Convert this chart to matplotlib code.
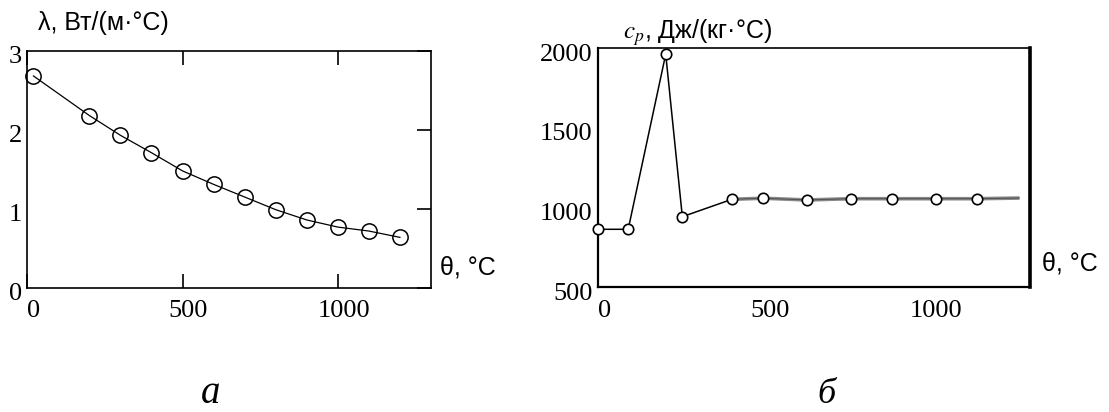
import matplotlib
matplotlib.use("Agg")
import matplotlib.pyplot as plt
import matplotlib.transforms as mtransforms

plt.rcParams['mathtext.fontset'] = 'stix'

# (a) thermal conductivity
theta_lam = [20, 200, 300, 400, 500, 600, 700, 800, 900, 1000, 1100, 1200]
lam = [2.68, 2.18, 1.93, 1.71, 1.48, 1.31, 1.15, 0.99, 0.86, 0.77, 0.72, 0.64]

# (b) specific heat, last point is the end of the line (no marker)
theta_cp = [0, 90, 203, 253, 402, 496, 629, 760, 883, 1016, 1140, 1268]
cp = [864, 864, 1963, 943, 1052, 1059, 1048, 1056, 1056, 1056, 1056, 1060]

xticks = [0, 500, 1000]
lam_ticks = [0, 1, 2, 3]
cp_ticks = [500, 1000, 1500, 2000]

serif = 'Liberation Serif'
sans = 'Liberation Sans'

fig = plt.figure(figsize=(11.09, 4.12), dpi=100)
ax1 = fig.add_axes([0.0246, 0.301, 0.364, 0.576])
ax2 = fig.add_axes([0.5395, 0.3027, 0.3893, 0.5801])

# left panel
ax1.plot(theta_lam, lam, color='black', lw=0.9, marker='o', ms=11,
         mfc='none', mec='black', mew=1.1, clip_on=False)
ax1.set_xlim(0, 1300)
ax1.set_ylim(0, 3)
ax1.set_xticks(xticks)
ax1.set_yticks(lam_ticks)
ax1.tick_params(axis='x', direction='in', top=True, bottom=True, length=10,
                width=1.2, pad=9)
ax1.tick_params(axis='y', direction='in', left=False, right=True, length=10,
                width=1.2, pad=4)

# right panel
ax2.plot(theta_cp[4:], cp[4:], color='#8a8a8a', lw=2.6, solid_capstyle='butt')
ax2.plot(theta_cp[4:], cp[4:], color='#555555', lw=0.8)
ax2.plot(theta_cp[:5], cp[:5], color='black', lw=1.1)
ax2.plot(theta_cp[:-1], cp[:-1], ls='none', marker='o', ms=7.5,
         mfc='white', mec='black', mew=1.2, clip_on=False, zorder=5)
ax2.set_xlim(0, 1300)
ax2.set_ylim(500, 2000)
ax2.set_xticks(xticks)
ax2.set_yticks(cp_ticks)
ax2.tick_params(axis='both', length=0)
ax2.tick_params(axis='x', pad=9)
ax2.tick_params(axis='y', pad=4)

for ax in (ax1, ax2):
    for sp in ax.spines.values():
        sp.set_linewidth(1.2)
    for lab in ax.get_xticklabels() + ax.get_yticklabels():
        lab.set_fontfamily(serif)
        lab.set_fontsize(19)
    shift = mtransforms.ScaledTranslation(6 / 100, 0, fig.dpi_scale_trans)
    for lab in ax.get_xticklabels():
        lab.set_transform(lab.get_transform() + shift)
    down = mtransforms.ScaledTranslation(0, -4 / 100, fig.dpi_scale_trans)
    for lab in ax.get_yticklabels():
        lab.set_transform(lab.get_transform() + down)
ax2.spines['right'].set_linewidth(2.6)
ax2.spines['bottom'].set_linewidth(1.6)
ax2.spines['left'].set_linewidth(1.6)

# axis titles
fig.text(38 / 1109, 1 - 23 / 412, 'λ, Вт/(м·°С)', family=sans, fontsize=18,
         ha='left', va='center')
fig.text(440 / 1109, 1 - 267 / 412, 'θ, °C', family=sans, fontsize=18,
         ha='left', va='center')
fig.text(623 / 1109, 1 - 33 / 412, r'$c_p$, Дж/(кг·°С)', family=sans,
         fontsize=18, ha='left', va='center')
fig.text(1042 / 1109, 1 - 264 / 412, 'θ, °C', family=sans, fontsize=18,
         ha='left', va='center')

# panel letters
fig.text(211 / 1109, 1 - 403 / 412, 'а', family=serif, style='italic',
         fontsize=28, ha='center', va='baseline')
fig.text(826 / 1109, 1 - 403 / 412, 'б', family=serif, style='italic',
         fontsize=26, ha='center', va='baseline')

fig.savefig('out.png', dpi=100)
